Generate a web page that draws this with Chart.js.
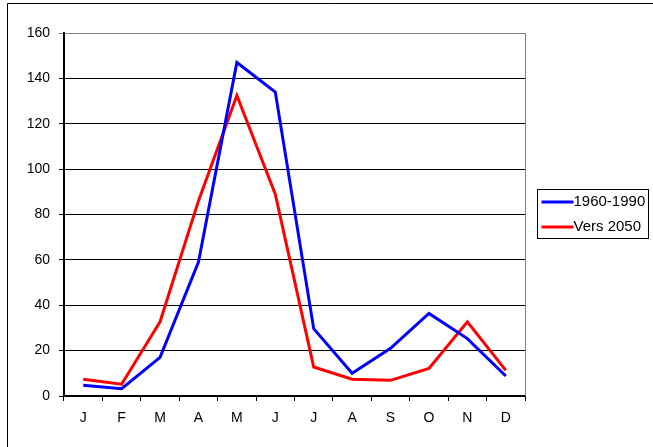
<!DOCTYPE html>
<html>
<head>
<meta charset="utf-8">
<script src="https://cdn.jsdelivr.net/npm/chart.js@4/dist/chart.umd.min.js"></script>
<style>
  html, body { margin: 0; padding: 0; background: #fff; }
  #wrap { position: relative; width: 653px; height: 447px; }
</style>
</head>
<body>
<div id="wrap"><canvas id="rainChart" width="653" height="447"></canvas></div>
<script>
const months = ['J', 'F', 'M', 'A', 'M', 'J', 'J', 'A', 'S', 'O', 'N', 'D'];
const series1960 = [4.7, 3.2, 17, 59, 147, 134, 29.7, 10, 21, 36.4, 25.3, 8.8];
const series2050 = [7.4, 5.2, 32.7, 86, 132.5, 89, 12.8, 7.4, 6.9, 12.1, 32.7, 11.3];
const yTicks = [0, 20, 40, 60, 80, 100, 120, 140, 160];

const FONT = 'Liberation Sans, Arial, sans-serif';

// frame, right border of the plot and boxed legend
const framePlugin = {
  id: 'frame',
  beforeDraw(chart) {
    const c = chart.ctx;
    c.save();
    c.fillStyle = '#fff';
    c.fillRect(0, 0, chart.width, chart.height);
    c.strokeStyle = '#000';
    c.lineWidth = 1;
    c.beginPath();
    c.moveTo(7.5, chart.height);
    c.lineTo(7.5, 3.5);
    c.lineTo(chart.width, 3.5);
    c.stroke();
    c.restore();
  },
  afterDraw(chart) {
    const c = chart.ctx;
    const a = chart.chartArea;
    c.save();
    c.strokeStyle = '#808080';
    c.lineWidth = 1;
    c.beginPath();
    c.moveTo(Math.round(a.right) + 0.5, a.top);
    c.lineTo(Math.round(a.right) + 0.5, a.bottom);
    c.stroke();

    // legend
    const bx = 537.5, by = 189.5, bw = 111, bh = 49;
    c.strokeStyle = '#000';
    c.strokeRect(bx, by, bw, bh);
    c.font = '15px ' + FONT;
    c.textBaseline = 'middle';
    c.fillStyle = '#000';
    chart.data.datasets.forEach((ds, i) => {
      const y = by + 12.5 + i * 25;
      c.strokeStyle = ds.borderColor;
      c.lineWidth = 3;
      c.beginPath();
      c.moveTo(bx + 4, y);
      c.lineTo(bx + 36, y);
      c.stroke();
      c.fillText(ds.label, bx + 36, y);
    });
    c.restore();
  }
};

const ctx = document.getElementById('rainChart').getContext('2d');
new Chart(ctx, {
  type: 'line',
  data: {
    labels: months,
    datasets: [{
      label: '1960-1990',
      data: series1960,
      borderColor: '#0000ff',
      borderWidth: 3,
      pointRadius: 0,
      tension: 0
    }, {
      label: 'Vers 2050',
      data: series2050,
      borderColor: '#ff0000',
      borderWidth: 3,
      pointRadius: 0,
      tension: 0
    }]
  },
  options: {
    responsive: false,
    animation: false,
    events: [],
    layout: {
      padding: { top: 33, right: 128, bottom: 0, left: 0 }
    },
    plugins: {
      legend: { display: false },
      tooltip: { enabled: false }
    },
    scales: {
      x: {
        offset: true,
        afterFit: s => { s.height = 51; },
        grid: {
          offset: true,
          drawOnChartArea: false,
          drawTicks: true,
          tickLength: 5,
          color: '#000',
          lineWidth: 1
        },
        border: { color: '#000', width: 2 },
        ticks: {
          color: '#000',
          padding: 9,
          maxRotation: 0,
          font: { family: FONT, size: 14 }
        }
      },
      y: {
        min: 0,
        max: 160,
        afterFit: s => { s.width = 64; },
        afterBuildTicks: s => { s.ticks = yTicks.map(v => ({ value: v })); },
        grid: {
          color: c => (c.tick && c.tick.value === 160 ? '#808080' : '#000'),
          lineWidth: 1,
          drawTicks: true,
          tickLength: 5
        },
        border: { color: '#000', width: 2 },
        ticks: {
          color: '#000',
          padding: 9,
          font: { family: FONT, size: 14 }
        }
      }
    }
  },
  plugins: [framePlugin]
});
</script>
</body>
</html>
